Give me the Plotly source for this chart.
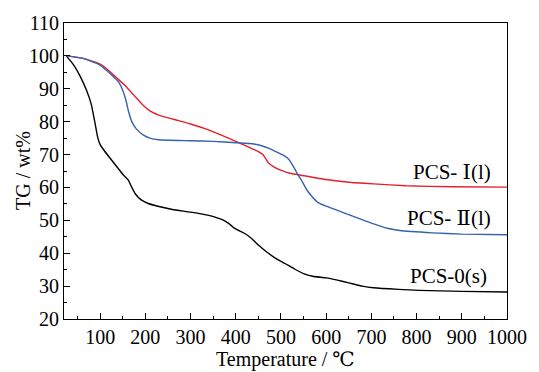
import plotly.graph_objects as go

# PCS-0(s) (black)
t0 = [25, 40, 55, 70, 80, 88, 95, 100, 110, 130, 150, 162, 170, 178, 190, 205, 230, 260, 300, 340, 370, 385, 395, 405, 420, 435, 450, 470, 490, 510, 530, 550, 570, 600, 625, 650, 680, 705, 760, 806, 900, 1000]
w0 = [100, 97.5, 94, 89.5, 85.5, 80, 75, 73, 71, 67.5, 64, 62.3, 60, 58, 56.3, 55.2, 54.2, 53.3, 52.5, 51.5, 50.2, 49.0, 47.8, 47.0, 46.0, 44.5, 42.5, 40.2, 38.3, 36.8, 35.2, 33.8, 33.0, 32.5, 31.8, 31.0, 30.0, 29.5, 29.0, 28.7, 28.4, 28.2]

# PCS-I(l) (red)
t1 = [25, 60, 97, 115, 135, 155, 175, 195, 210, 230, 260, 300, 340, 380, 420, 450, 460, 465, 472, 485, 502, 520, 553, 600, 650, 705, 777, 878, 1000]
w1 = [100, 99.3, 97.7, 96, 93.5, 91, 88, 85, 83.3, 82, 80.8, 79.3, 77.5, 75.2, 72.8, 70.9, 70, 69, 67.5, 66.2, 65.1, 64.3, 63.5, 62.4, 61.6, 61.1, 60.5, 60.2, 60.1]

# PCS-II(l) (blue)
t2 = [25, 60, 97, 115, 130, 141, 150, 157, 163, 170, 180, 195, 210, 230, 300, 350, 401, 440, 459, 475, 490, 505, 517, 527, 537, 547, 557, 570, 582, 600, 618, 660, 705, 735, 763, 835, 900, 1000]
w2 = [100, 99.3, 97.4, 95.5, 93.6, 92, 89.5, 86.5, 83, 80, 77.8, 76, 75, 74.5, 74.2, 74, 73.6, 73.2, 72.6, 71.8, 70.8, 69.8, 68.6, 66.5, 64, 61.8, 59.3, 57, 55.4, 54.3, 53.4, 51.2, 48.9, 47.6, 46.9, 46.2, 45.8, 45.6]

labels = ["PCS- Ⅰ(l)", "PCS- Ⅱ(l)", "PCS-0(s)"]
label_x = [969, 969, 961]
label_y = [64.7, 50.6, 33.2]

x_ticks = [100, 200, 300, 400, 500, 600, 700, 800, 900, 1000]
y_ticks = [20, 30, 40, 50, 60, 70, 80, 90, 100, 110]

font = "'Times New Roman', 'Liberation Serif', 'DejaVu Serif', serif"

fig = go.Figure()
fig.add_trace(go.Scatter(x=t0, y=w0, mode="lines", line=dict(color="#000000", width=1.4, shape="spline", smoothing=0.4)))
fig.add_trace(go.Scatter(x=t1, y=w1, mode="lines", line=dict(color="#e3202b", width=1.4, shape="spline", smoothing=0.4)))
fig.add_trace(go.Scatter(x=t2, y=w2, mode="lines", line=dict(color="#3562ae", width=1.4, shape="spline", smoothing=0.4)))

for lab, xv, yv in zip(labels, label_x, label_y):
    fig.add_annotation(x=xv, y=yv, text=lab, showarrow=False, xanchor="right", yanchor="middle",
                       font=dict(family=font, size=21, color="#000000"))

# axis titles
fig.add_annotation(x=0.499, y=-0.136, xref="paper", yref="paper", text="Temperature / ℃",
                   showarrow=False, xanchor="center", yanchor="middle",
                   font=dict(family=font, size=20, color="#000000"))
fig.add_annotation(x=-0.093, y=0.503, xref="paper", yref="paper", text="TG / wt%",
                   showarrow=False, xanchor="center", yanchor="middle", textangle=-90,
                   font=dict(family=font, size=20, color="#000000"))

axis_common = dict(showline=True, linecolor="#000000", linewidth=1.2, mirror=True,
                   ticks="inside", tickcolor="#000000", ticklen=6, tickwidth=1,
                   showgrid=False, zeroline=False, ticklabeloverflow="allow",
                   tickfont=dict(family=font, size=20, color="#000000"))

fig.update_xaxes(range=[20, 1000], tickvals=x_ticks,
                 minor=dict(ticks="inside", ticklen=3, tickcolor="#000000", dtick=50, tick0=0),
                 **axis_common)
fig.update_yaxes(range=[20, 110], tickvals=y_ticks,
                 minor=dict(ticks="inside", ticklen=3, tickcolor="#000000", dtick=5, tick0=0),
                 **axis_common)

fig.update_layout(width=539, height=372, margin=dict(l=64, r=22, t=17, b=53),
                  font=dict(family=font),
                  paper_bgcolor="white", plot_bgcolor="white", showlegend=False)

# remove the default page margin so the figure fills the window exactly
fig.write_html("out.html",
               config={"displayModeBar": False},
               post_script="document.body.style.margin='0';document.body.style.overflow='hidden';")
